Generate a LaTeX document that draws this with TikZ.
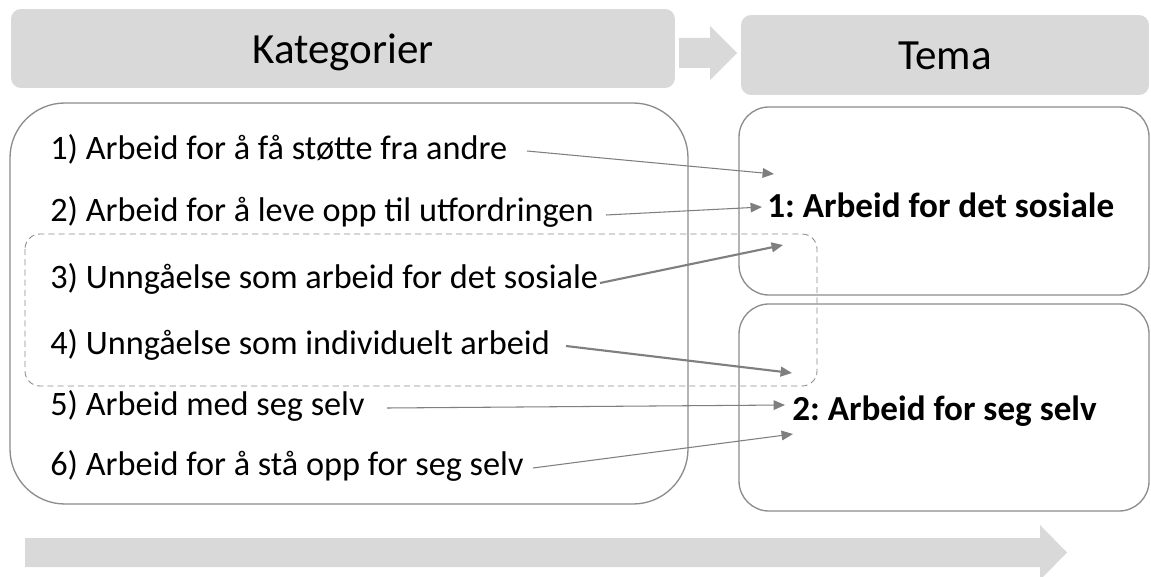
\documentclass[tikz,border=0pt]{standalone}
\usepackage{fontspec}
\setmainfont{Carlito}
\usetikzlibrary{arrows.meta}
\definecolor{hdr}{HTML}{D9D9D9}
\definecolor{edge}{HTML}{8C8C8C}
\definecolor{conn}{HTML}{7F7F7F}
\frenchspacing
\begin{document}
\begin{tikzpicture}[x=0.02cm,y=-0.02cm,
  hdrbox/.style={fill=hdr, rounded corners=0.2cm, inner sep=0pt},
  hdrlabel/.style={anchor=base, inner sep=0pt, font=\fontsize{24.5}{28}\selectfont},
  catbox/.style={draw=edge, line width=0.75pt, rounded corners=1.1cm},
  temabox/.style={draw=edge, line width=0.75pt, rounded corners=0.6cm},
  grpbox/.style={draw=edge, line width=0.5pt, dash pattern=on 3.5pt off 2.3pt, rounded corners=0.3cm},
  item/.style={anchor=base west, inner sep=0pt, font=\fontsize{19.5}{23}\selectfont},
  theme/.style={anchor=base west, inner sep=0pt, font=\fontsize{20}{24}\selectfont\bfseries},
  link/.style={draw=conn, line width=0.6pt, -{Triangle[length=6.5pt,width=5.5pt]}},
  boldlink/.style={link, line width=1.2pt}
]
\useasboundingbox (0,0) rectangle (1151,577);
\fill[white] (0,0) rectangle (1151,577);

% headers
\node[hdrbox, minimum width=13.28cm, minimum height=1.58cm] (katbox) at (343,48.5) {};
\node[hdrbox, minimum width=8.16cm, minimum height=1.6cm] (temabox) at (945,55) {};
\node[hdrlabel] (kat) at (343,64) {Kategorier};
\node[hdrlabel] (tema) at (945,70) {Tema};
\fill[hdr] (679,38) -- (710,38) -- (710,26) -- (737,53) -- (710,80) -- (710,68) -- (679,68) -- cycle;

% containers
\draw[catbox] (10,103) rectangle (688,504);
\draw[temabox] (739,107) rectangle (1149,295);
\draw[temabox] (739,304) rectangle (1149,511);
\draw[grpbox] (25,234) rectangle (817,386);

% categories
\node[item] (c1) at (50,160) {1) Arbeid for å få støtte fra andre};
\node[item] (c2) at (50,222) {2) Arbeid for å leve opp til utfordringen};
\node[item] (c3) at (50,288) {3) Unngåelse som arbeid for det sosiale};
\node[item] (c4) at (50,354) {4) Unngåelse som individuelt arbeid};
\node[item] (c5) at (50,415) {5) Arbeid med seg selv};
\node[item] (c6) at (50,475) {6) Arbeid for å stå opp for seg selv};

% themes
\node[theme] (th1) at (767,218) {1: Arbeid for det sosiale};
\node[theme] (th2) at (792,420) {2: Arbeid for seg selv};

% connector ends
\coordinate (s1) at (527,151); \coordinate (e1) at (774,174);
\coordinate (s2) at (606,215); \coordinate (e2) at (762,207);
\coordinate (s3) at (600,283); \coordinate (e3) at (783,245);
\coordinate (s4) at (566,346); \coordinate (e4) at (792,373);
\coordinate (s5) at (387,408); \coordinate (e5) at (785,405);
\coordinate (s6) at (533,468); \coordinate (e6) at (793,434);

\draw[link] (s1) -- (e1);
\draw[link] (s2) -- (e2);
\draw[boldlink] (s3) -- (e3);
\draw[boldlink] (s4) -- (e4);
\draw[link] (s5) -- (e5);
\draw[link] (s6) -- (e6);

% bottom arrow
\fill[hdr] (25,538) -- (1040,538) -- (1040,525) -- (1067,552.5) -- (1040,580) -- (1040,567) -- (25,567) -- cycle;
\end{tikzpicture}
\end{document}
